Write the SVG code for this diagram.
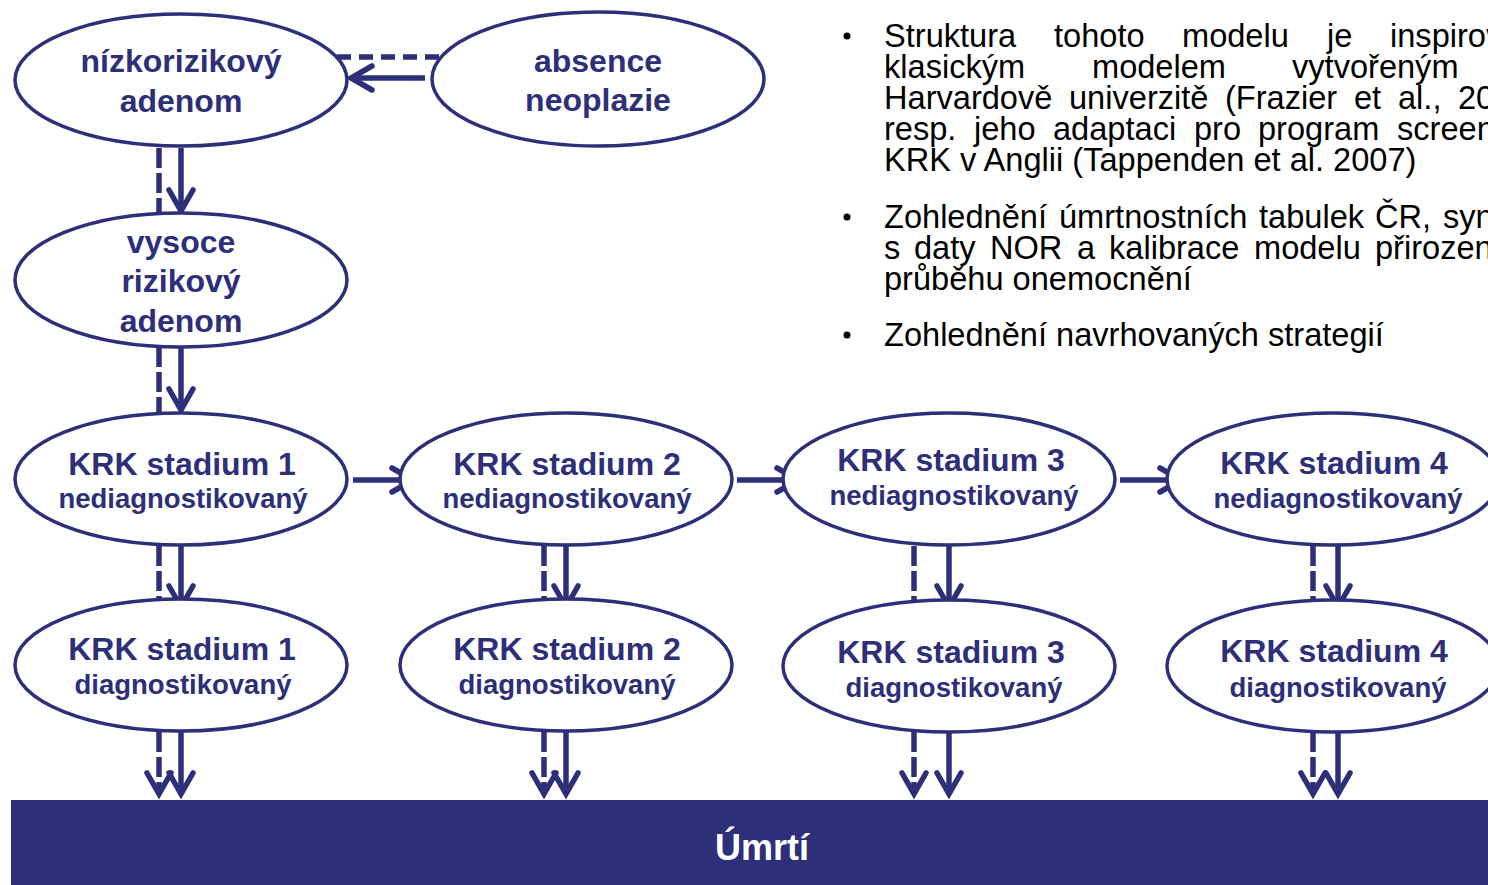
<svg xmlns="http://www.w3.org/2000/svg" width="1488" height="885" viewBox="0 0 1488 885">
<style>
.node ellipse{fill:#fff;stroke:#2d2f78;stroke-width:3.5}
.lbl{font-family:"Liberation Sans",Arial,sans-serif;font-weight:bold;fill:#2d2f78;text-anchor:middle}
.big{font-size:32px}
.small{font-size:27.5px}
.conn path{fill:none;stroke:#2d2f78;stroke-width:5.5}
.conn .dash{stroke-dasharray:14 8}
.conn .vdash{stroke-dasharray:20 5}
.body{font-family:"Liberation Sans",Arial,sans-serif;font-size:32.6px;fill:#000}
</style>
<defs>
<marker id="chev" markerUnits="userSpaceOnUse" orient="auto" overflow="visible" markerWidth="30" markerHeight="30" refX="0" refY="0">
<path d="M-21,-12 L0,0 L-21,12" fill="none" stroke="#2d2f78" stroke-width="5.5" stroke-linecap="round" stroke-linejoin="miter" stroke-dasharray="none"/>
</marker>
</defs>
<rect width="1488" height="885" fill="#fff"/>

<g id="connectors" class="conn">
<path class="dash" d="M337,57 H440"/>
<path d="M425,78 H351" marker-end="url(#chev)"/>
<path class="vdash" d="M159,148 V213"/>
<path d="M181,148 V211" marker-end="url(#chev)"/>
<path class="vdash" d="M159,347 V412"/>
<path d="M181,347 V410" marker-end="url(#chev)"/>
<path d="M353,480 H413" marker-end="url(#chev)"/>
<path d="M737,480 H798" marker-end="url(#chev)"/>
<path d="M1120,480 H1181" marker-end="url(#chev)"/>
<path class="vdash" d="M159,546 V600"/>
<path d="M181,546 V607" marker-end="url(#chev)"/>
<path class="vdash" d="M544,546 V600"/>
<path d="M566,546 V607" marker-end="url(#chev)"/>
<path class="vdash" d="M914,546 V600"/>
<path d="M949,546 V607" marker-end="url(#chev)"/>
<path class="vdash" d="M1313,546 V600"/>
<path d="M1338,546 V607" marker-end="url(#chev)"/>
<path class="vdash" d="M159,732 V794" marker-end="url(#chev)"/>
<path d="M181,732 V794" marker-end="url(#chev)"/>
<path class="vdash" d="M544,732 V794" marker-end="url(#chev)"/>
<path d="M566,732 V794" marker-end="url(#chev)"/>
<path class="vdash" d="M914,732 V794" marker-end="url(#chev)"/>
<path d="M949,732 V794" marker-end="url(#chev)"/>
<path class="vdash" d="M1313,732 V794" marker-end="url(#chev)"/>
<path d="M1338,732 V794" marker-end="url(#chev)"/>
</g>

<g id="n-nizko" class="node">
<ellipse cx="181" cy="80" rx="166" ry="66"/>
<text class="lbl big" x="181" y="72">nízkorizikový</text>
<text class="lbl big" x="181" y="112">adenom</text>
</g>
<g id="n-absence" class="node">
<ellipse cx="598" cy="79" rx="166" ry="67"/>
<text class="lbl big" x="598" y="72">absence</text>
<text class="lbl big" x="598" y="111">neoplazie</text>
</g>
<g id="n-vysoce" class="node">
<ellipse cx="181" cy="280" rx="166" ry="67"/>
<text class="lbl big" x="181" y="253">vysoce</text>
<text class="lbl big" x="181" y="292">rizikový</text>
<text class="lbl big" x="181" y="332">adenom</text>
</g>

<g id="n-s1n" class="node">
<ellipse cx="181" cy="479" rx="166" ry="66"/>
<text class="lbl big" x="182" y="475">KRK stadium 1</text>
<text class="lbl small" x="183" y="508">nediagnostikovaný</text>
</g>
<g id="n-s2n" class="node">
<ellipse cx="566" cy="479" rx="166" ry="66"/>
<text class="lbl big" x="567" y="475">KRK stadium 2</text>
<text class="lbl small" x="567" y="508">nediagnostikovaný</text>
</g>
<g id="n-s3n" class="node">
<ellipse cx="949" cy="479" rx="166" ry="66"/>
<text class="lbl big" x="951" y="471">KRK stadium 3</text>
<text class="lbl small" x="954" y="505">nediagnostikovaný</text>
</g>
<g id="n-s4n" class="node">
<ellipse cx="1333" cy="479" rx="166" ry="66"/>
<text class="lbl big" x="1334" y="474">KRK stadium 4</text>
<text class="lbl small" x="1338" y="508">nediagnostikovaný</text>
</g>

<g id="n-s1d" class="node">
<ellipse cx="181" cy="665" rx="166" ry="66"/>
<text class="lbl big" x="182" y="660">KRK stadium 1</text>
<text class="lbl small" x="183" y="694">diagnostikovaný</text>
</g>
<g id="n-s2d" class="node">
<ellipse cx="566" cy="665" rx="166" ry="66"/>
<text class="lbl big" x="567" y="660">KRK stadium 2</text>
<text class="lbl small" x="567" y="694">diagnostikovaný</text>
</g>
<g id="n-s3d" class="node">
<ellipse cx="949" cy="666" rx="166" ry="66"/>
<text class="lbl big" x="951" y="663">KRK stadium 3</text>
<text class="lbl small" x="954" y="697">diagnostikovaný</text>
</g>
<g id="n-s4d" class="node">
<ellipse cx="1333" cy="666" rx="166" ry="66"/>
<text class="lbl big" x="1334" y="662">KRK stadium 4</text>
<text class="lbl small" x="1338" y="697">diagnostikovaný</text>
</g>

<g id="n-umrti">
<rect x="11" y="800" width="1477" height="85" fill="#2d2f78"/>
<text x="762" y="860" font-family="'Liberation Sans',Arial,sans-serif" font-weight="bold" font-size="36" fill="#fff" text-anchor="middle">Úmrtí</text>
</g>

<g id="bullets" class="body">
<circle cx="847" cy="36" r="3.5" fill="#000"/>
<circle cx="847" cy="217" r="3.5" fill="#000"/>
<circle cx="847" cy="335" r="3.5" fill="#000"/>
<text y="47"><tspan x="884">Struktura</tspan><tspan x="1054">tohoto</tspan><tspan x="1182">modelu</tspan><tspan x="1327">je</tspan><tspan x="1390">inspirov</tspan></text>
<text y="78"><tspan x="884">klasickým</tspan><tspan x="1092">modelem</tspan><tspan x="1292">vytvořeným</tspan></text>
<text y="109"><tspan x="884">Harvardově</tspan><tspan x="1069">univerzitě</tspan><tspan x="1225">(Frazier</tspan><tspan x="1354">et</tspan><tspan x="1398">al.,</tspan><tspan x="1458">20</tspan></text>
<text y="140"><tspan x="884">resp.</tspan><tspan x="974">jeho</tspan><tspan x="1053">adaptaci</tspan><tspan x="1194">pro</tspan><tspan x="1258">program</tspan><tspan x="1397">screen</tspan></text>
<text x="884" y="171">KRK v Anglii (Tappenden et al. 2007)</text>
<text y="228"><tspan x="884">Zohlednění</tspan><tspan x="1059">úmrtnostních</tspan><tspan x="1259">tabulek</tspan><tspan x="1375">ČR,</tspan><tspan x="1443">syn</tspan></text>
<text y="259"><tspan x="884">s</tspan><tspan x="914">daty</tspan><tspan x="990">NOR</tspan><tspan x="1077">a</tspan><tspan x="1109">kalibrace</tspan><tspan x="1254">modelu</tspan><tspan x="1375">přirozen</tspan></text>
<text x="884" y="290">průběhu onemocnění</text>
<text x="884" y="346">Zohlednění navrhovaných strategií</text>
</g>
</svg>
